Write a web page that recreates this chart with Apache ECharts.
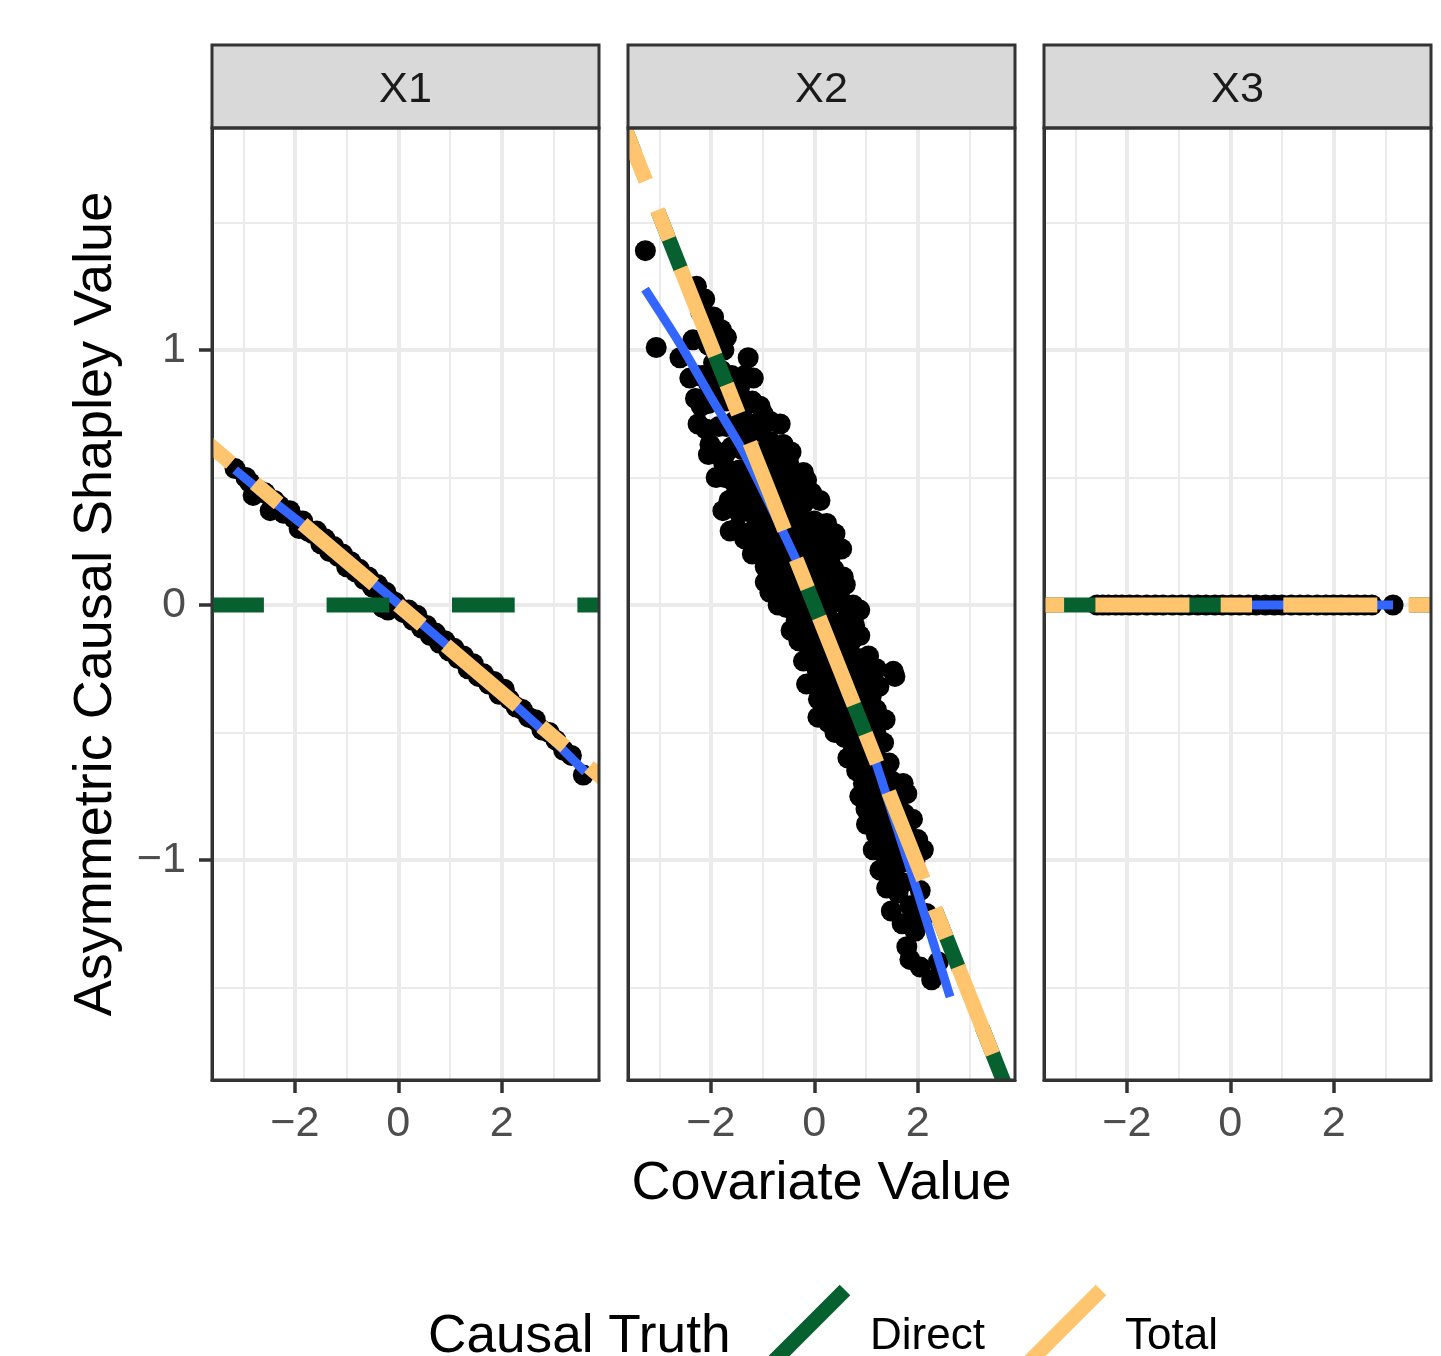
<!DOCTYPE html>
<html><head><meta charset="utf-8">
<script src="https://cdn.jsdelivr.net/npm/echarts@6/dist/echarts.min.js"></script>
<style>html,body{margin:0;padding:0;background:#fff}#c{width:1441px;height:1356px}</style>
</head><body><div id="c"></div>
<script>
// ---------- data ----------
const panels = ['X1', 'X2', 'X3'];
const xTicks = [-2, 0, 2];
const yTicks = [-1, 0, 1];
const xRange = [-3.606, 3.884];
const yRange = [-1.863, 1.871];
const legendItems = ['Direct', 'Total'];

// causal truth lines (slope / intercept per panel)
const directSlope = [0, -0.51, 0];
const directIntercept = [0, 0, 0];
const totalSlope = [-0.172, -0.51, 0];
const totalIntercept = [0, 0, 0];

const pointsX1 = [[-3.16,0.535],[-2.95,0.50],[-2.87,0.48],[-2.81,0.43],[-2.70,0.45],[-2.58,0.44],[-2.48,0.37],[-2.40,0.41],
 [-2.30,0.39],[-2.22,0.36],[-2.10,0.37],[-2.02,0.34],[-1.92,0.30],[-1.85,0.33],[-1.75,0.29],[-1.66,0.28],[-1.58,0.29],
 [-1.50,0.24],[-1.42,0.26],[-1.33,0.21],[-1.25,0.23],[-1.16,0.19],[-1.08,0.20],[-1.00,0.15],[-0.92,0.17],[-0.83,0.13],
 [-0.75,0.14],[-0.66,0.10],[-0.58,0.11],[-0.50,0.07],[-0.40,0.08],[-0.32,0.04],[-0.30,-0.01],[-0.24,0.05],[-0.20,-0.02],
 [-0.15,0.02],[-0.06,0.01],[0.02,-0.01],[0.10,-0.03],[0.20,-0.02],[0.28,-0.06],[0.36,-0.04],[0.45,-0.09],[0.55,-0.08],
 [0.62,-0.12],[0.72,-0.11],[0.80,-0.15],[0.90,-0.14],[0.98,-0.18],[1.08,-0.17],[1.16,-0.21],[1.26,-0.20],[1.35,-0.25],
 [1.45,-0.23],[1.55,-0.28],[1.65,-0.27],[1.75,-0.31],[1.85,-0.30],[1.95,-0.35],[2.05,-0.33],[2.15,-0.37],[2.28,-0.40],
 [2.40,-0.41],[2.52,-0.44],[2.65,-0.45],[2.78,-0.49],[2.92,-0.50],[3.05,-0.53],[3.20,-0.57],[3.35,-0.59],[3.58,-0.667]];

const pointsX2 = [[-3.27,1.39],[-3.06,1.01],
 [-2.28,1.25],[-2.12,1.20],[-1.89,1.09],[-1.70,1.05],[-2.35,1.04],[-2.60,0.97],[-1.28,0.97],[-1.18,0.89],[-2.41,0.89],
 [-2.19,0.78],[-2.25,0.71],[-2.02,0.63],[-0.99,0.75],[-0.66,0.71],[-0.60,0.63],
 [-2.20,1.15],[-1.95,1.13],[-1.80,1.08],
 [-2.05,1.02],[-1.95,0.95],[-2.15,0.90],[-1.80,0.92],[-1.60,0.90],[-1.45,0.85],[-1.70,0.80],[-1.95,0.82],[-1.40,0.76],
 [-1.20,0.80],[-1.55,0.72],[-1.85,0.70],[-1.30,0.66],[-1.05,0.68],[-1.60,0.62],[-0.85,0.64],[-1.80,0.58],[-1.15,0.58],
 [-2.05,0.87],[-1.75,1.00],
 [-2.25,0.90],[-1.70,0.88],[-1.35,0.90],
 [-2.30,0.81],[-2.05,0.79],[-1.85,0.80],[-1.55,0.80],[-1.30,0.79],[-1.05,0.78],
 [-2.10,0.69],[-1.70,0.70],[-1.45,0.69],[-1.15,0.71],[-0.85,0.72],
 [-1.95,0.61],[-1.70,0.60],[-1.40,0.61],[-1.00,0.60],[-0.70,0.58],[-0.45,0.60],
 [-2.05,0.59],[-1.73,0.50],[-1.77,0.37],[-1.63,0.29],[-0.21,0.52],[0.11,0.41],[0.24,0.32],[0.53,0.22],[-1.08,0.22],
 [-0.86,0.05],[-0.54,-0.01],[0.56,0.11],[0.88,-0.02],[0.88,-0.12],[-0.21,-0.22],[1.53,-0.26],
 [-1.75,0.55],[-1.45,0.53],[-1.10,0.55],[-0.80,0.54],[-0.50,0.56],[-0.35,0.50],
 [-1.90,0.50],[-1.60,0.49],[-1.30,0.51],[-0.95,0.50],[-0.65,0.50],[-0.15,0.49],
 [-1.50,0.45],[-1.20,0.46],[-0.90,0.44],[-0.60,0.46],[-0.35,0.43],[-0.05,0.44],
 [-1.65,0.41],[-1.35,0.40],[-1.05,0.40],[-0.75,0.39],[-0.45,0.40],[-0.20,0.40],
 [-1.45,0.36],[-1.15,0.35],[-0.85,0.34],[-0.55,0.36],[-0.25,0.34],[0.00,0.33],
 [-1.50,0.30],[-1.20,0.29],[-0.95,0.31],[-0.70,0.30],[-0.40,0.29],[-0.15,0.30],[0.10,0.29],[0.40,0.28],
 [-1.35,0.26],[-0.95,0.25],[-0.65,0.24],[-0.35,0.25],[-0.05,0.24],[0.25,0.22],
 [-1.20,0.20],[-0.80,0.19],[-0.50,0.20],[-0.20,0.19],[0.05,0.20],[0.30,0.18],
 [-0.95,0.15],[-0.65,0.14],[-0.35,0.16],[-0.10,0.13],[0.15,0.15],[0.38,0.14],
 [-0.80,0.10],[-0.50,0.10],[-0.25,0.09],[0.05,0.10],[0.30,0.09],[0.60,0.08],
 [-0.60,0.06],[-0.30,0.04],[0.00,0.05],[0.25,0.03],[0.50,0.06],[-0.95,0.09],
 [-0.70,0.00],[-0.20,0.00],[0.05,-0.01],[0.30,0.00],[0.55,0.01],[0.75,0.00],
 [-0.35,-0.06],[-0.10,-0.04],[0.15,-0.05],[0.40,-0.07],[0.65,-0.04],
 [-0.45,-0.10],[-0.20,-0.10],[0.05,-0.09],[0.30,-0.10],[0.55,-0.10],[0.78,-0.08],
 [-0.30,-0.14],[0.00,-0.16],[0.25,-0.13],[0.50,-0.16],[0.72,-0.14],
 [-0.10,-0.20],[0.15,-0.21],[0.40,-0.20],[0.62,-0.19],[0.85,-0.21],[1.05,-0.20],
 [-0.15,-0.31],[0.08,-0.37],[0.27,-0.46],[0.59,-0.52],[1.56,-0.28],[1.37,-0.45],[1.34,-0.54],[0.82,-0.65],[0.88,-0.75],
 [1.79,-0.74],[1.01,-0.86],[1.14,-0.96],[2.11,-0.96],[1.27,-1.04],[0.07,-0.44],
 [0.05,-0.25],[0.35,-0.26],[0.65,-0.24],[0.95,-0.27],[1.20,-0.25],
 [0.00,-0.30],[0.25,-0.31],[0.50,-0.30],[0.75,-0.29],[1.00,-0.31],[1.25,-0.32],
 [0.20,-0.35],[0.50,-0.36],[0.80,-0.34],[1.10,-0.36],
 [0.30,-0.40],[0.60,-0.40],[0.90,-0.39],[1.20,-0.41],
 [0.50,-0.45],[0.80,-0.44],[1.10,-0.46],
 [0.40,-0.50],[0.65,-0.49],[0.92,-0.50],[1.20,-0.51],
 [0.75,-0.55],[1.05,-0.56],
 [0.65,-0.60],[0.90,-0.59],[1.20,-0.60],[1.45,-0.62],
 [1.05,-0.65],[1.30,-0.66],
 [0.95,-0.70],[1.22,-0.71],[1.50,-0.69],[1.72,-0.70],
 [1.10,-0.76],[1.40,-0.75],[1.60,-0.78],
 [1.00,-0.80],[1.22,-0.81],[1.48,-0.80],[1.75,-0.82],
 [1.30,-0.85],[1.60,-0.86],[1.90,-0.84],
 [1.20,-0.90],[1.52,-0.91],[1.80,-0.90],[2.00,-0.92],
 [1.45,-0.95],[1.75,-0.96],
 [1.40,-1.00],[1.70,-1.01],[1.95,-1.00],
 [1.40,-1.11],[1.62,-1.13],[2.05,-1.12],
 [1.70,-1.25],[2.00,-1.24],
 [1.49,-1.20],[1.72,-1.09],[1.85,-1.18],[2.17,-1.21],[1.79,-1.34],[1.85,-1.39],[2.27,-1.47],[1.55,-1.06],[1.95,-1.28],
 [2.05,-1.42],[2.40,-1.40]];

const pointsX3 = [[-2.58,0],[-2.47,0],[-2.36,0],[-2.22,0],[-2.10,0],[-1.95,0],[-1.80,0],[-1.62,0],[-1.45,0],[-1.30,0],
 [-1.12,0],[-0.95,0],[-0.80,0],[-0.63,0],[-0.47,0],[-0.30,0],[-0.15,0],[0.02,0],[0.18,0],[0.35,0],[0.50,0],[0.68,0],
 [0.85,0],[1.00,0],[1.18,0],[1.35,0],[1.50,0],[1.68,0],[1.85,0],[2.00,0],[2.15,0],[2.30,0],[2.45,0],[2.60,0],[2.74,0],[3.15,0]];

// fitted (loess) curves
const smoothX1 = [[-3.16,0.53],[-2.35,0.395],[-1.5,0.26],[-0.8,0.14],[0,0.005],[0.75,-0.125],[1.5,-0.255],[2.3,-0.40],[3.0,-0.53],[3.62,-0.655]];
const smoothX2 = [[-3.277,1.239],[-2.599,1.024],[-1.980,0.808],[-1.380,0.604],[-0.857,0.392],[-0.335,0.169],[0.110,-0.039],
 [0.594,-0.275],[1.078,-0.549],[1.562,-0.851],[2.046,-1.157],[2.627,-1.537]];
const smoothX3 = [[-2.58,0],[3.15,0]];

// ---------- chart ----------
const FONT = '"Liberation Sans", Arial, Helvetica, sans-serif';
const GREEN = '#07602F', ORANGE = '#FEC46E', BLUE = '#3366FF';
const gridLeft = [212, 628, 1044];
const gridTop = 128, gridW = 387, gridH = 952;
const pts = [pointsX1, pointsX2, pointsX3];
const smooths = [smoothX1, smoothX2, smoothX3];
const SMALL = 43.2, BIG = 54;

const fmt = v => v < 0 ? '\u2212' + Math.abs(v) : String(v);
const span = xRange[1] - xRange[0];
// ggplot extends an abline one panel-width beyond each side before clipping
function abline(slope, icpt) {
  const xa = xRange[0] - span, xb = xRange[1] + span;
  return [[xa, icpt + slope * xa, xb, icpt + slope * xb]];
}
function ablineRender(color, dash) {
  return function (params, api) {
    const p1 = api.coord([api.value(0), api.value(1)]);
    const p2 = api.coord([api.value(2), api.value(3)]);
    return {type: 'line', shape: {x1: p1[0], y1: p1[1], x2: p2[0], y2: p2[1]},
      style: {stroke: color, lineWidth: 15, lineDash: dash, lineCap: 'butt', fill: null}};
  };
}

const grids = gridLeft.map(l => ({left: l, top: gridTop, width: gridW, height: gridH, show: false,
  containLabel: false, outerBoundsMode: 'none'}));

const xAxes = panels.map((p, i) => ({
  type: 'value', gridIndex: i, min: xRange[0], max: xRange[1], splitNumber: 4,
  axisLine: {show: true, onZero: false, lineStyle: {color: '#333333', width: 3}},
  axisTick: {show: true, customValues: xTicks, length: 13, lineStyle: {color: '#333333', width: 3.5}},
  axisLabel: {show: true, customValues: xTicks, formatter: fmt, color: '#4D4D4D', fontSize: SMALL, fontFamily: FONT, margin: 23},
  splitLine: {show: true, lineStyle: {color: '#EBEBEB', width: 4}},
  minorTick: {show: false, splitNumber: 2},
  minorSplitLine: {show: true, lineStyle: {color: '#EBEBEB', width: 2}}
}));
const yAxes = panels.map((p, i) => ({
  type: 'value', gridIndex: i, min: yRange[0], max: yRange[1], splitNumber: 4,
  axisLine: {show: true, onZero: false, lineStyle: {color: '#333333', width: 3}},
  axisTick: {show: i === 0, customValues: yTicks, length: 13, lineStyle: {color: '#333333', width: 3.5}},
  axisLabel: {show: i === 0, customValues: yTicks, formatter: fmt, color: '#4D4D4D', fontSize: SMALL, fontFamily: FONT, margin: 26},
  splitLine: {show: true, lineStyle: {color: '#EBEBEB', width: 4}},
  minorTick: {show: false, splitNumber: 2},
  minorSplitLine: {show: true, lineStyle: {color: '#EBEBEB', width: 2}}
}));

const series = [];
panels.forEach((p, i) => {
  series.push({type: 'scatter', xAxisIndex: i, yAxisIndex: i, data: pts[i], symbolSize: 21,
    itemStyle: {color: '#000000', opacity: 1}, z: 2, silent: true});
  series.push({type: 'line', xAxisIndex: i, yAxisIndex: i, data: smooths[i], symbol: 'none', smooth: 0.25,
    lineStyle: {color: BLUE, width: 9}, z: 3, silent: true});
  series.push({type: 'custom', name: 'Direct', xAxisIndex: i, yAxisIndex: i, data: abline(directSlope[i], directIntercept[i]),
    encode: {x: [0, 2], y: [1, 3]}, renderItem: ablineRender(GREEN, [62.7, 62.7]), clip: true, z: 4, silent: true});
  series.push({type: 'custom', name: 'Total', xAxisIndex: i, yAxisIndex: i, data: abline(totalSlope[i], totalIntercept[i]),
    encode: {x: [0, 2], y: [1, 3]}, renderItem: ablineRender(ORANGE, [31.3, 31.3, 94, 31.3]), clip: true, z: 5, silent: true});
});

const graphic = [];
panels.forEach((p, i) => {
  graphic.push({type: 'rect', shape: {x: gridLeft[i], y: 45, width: gridW, height: 83},
    style: {fill: '#D9D9D9', stroke: '#333333', lineWidth: 3}, z: 90});
  graphic.push({type: 'text', x: gridLeft[i] + gridW / 2, y: 90,
    style: {text: p, fontSize: SMALL, fontFamily: FONT, fill: '#1A1A1A', align: 'center', verticalAlign: 'middle'}, z: 91});
  graphic.push({type: 'rect', shape: {x: gridLeft[i], y: gridTop, width: gridW, height: gridH},
    style: {fill: 'none', stroke: '#333333', lineWidth: 3}, z: 100});
});
graphic.push({type: 'text', x: 821.5, y: 1184,
  style: {text: 'Covariate Value', fontSize: BIG, fontFamily: FONT, fill: '#000000', align: 'center', verticalAlign: 'middle'}});
graphic.push({type: 'text', x: 96, y: 604, rotation: Math.PI / 2,
  style: {text: 'Asymmetric Causal Shapley Value', fontSize: BIG, fontFamily: FONT, fill: '#000000', align: 'center', verticalAlign: 'middle'}});
// legend
graphic.push({type: 'text', x: 428, y: 1337,
  style: {text: 'Causal Truth', fontSize: 53.2, fontFamily: FONT, fill: '#000000', align: 'left', verticalAlign: 'middle'}});
const legendColors = [GREEN, ORANGE];
const keyX = [774, 1030], labelX = [870, 1125];
legendItems.forEach((name, k) => {
  graphic.push({type: 'line', shape: {x1: keyX[k], y1: 1361, x2: keyX[k] + 71, y2: 1290},
    style: {stroke: legendColors[k], lineWidth: 15, lineCap: 'butt'}});
  graphic.push({type: 'text', x: labelX[k], y: 1337,
    style: {text: name, fontSize: 44, fontFamily: FONT, fill: '#000000', align: 'left', verticalAlign: 'middle'}});
});

const chart = echarts.init(document.getElementById('c'), null, {renderer: 'canvas', width: 1441, height: 1356});
chart.setOption({
  animation: false,
  backgroundColor: '#FFFFFF',
  grid: grids, xAxis: xAxes, yAxis: yAxes, series: series, graphic: graphic
});
</script></body></html>
